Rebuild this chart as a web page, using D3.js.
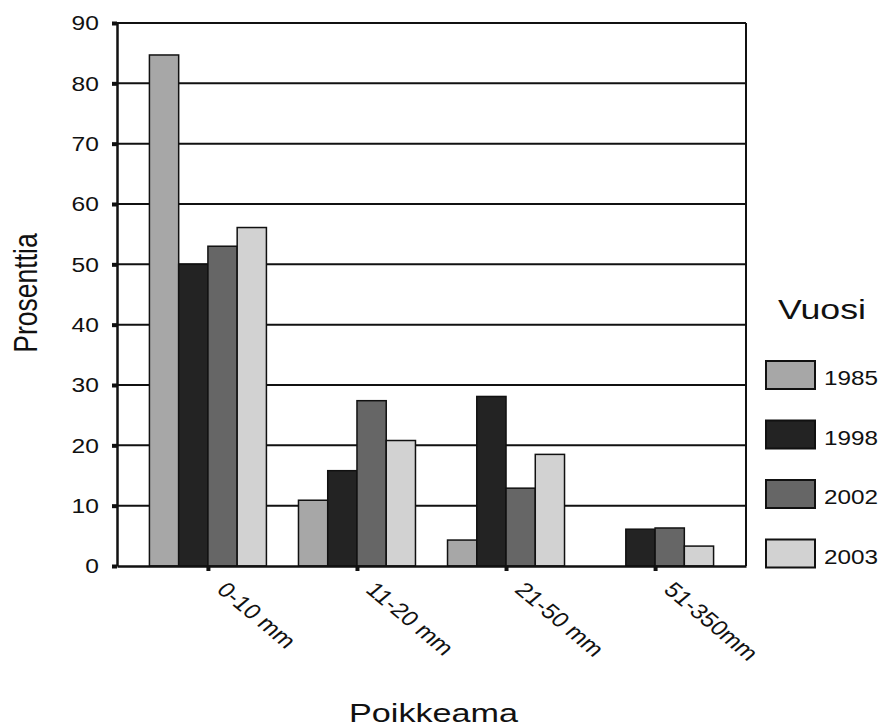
<!DOCTYPE html>
<html>
<head>
<meta charset="utf-8">
<script src="https://cdn.jsdelivr.net/npm/d3@7"></script>
<style>
  body { margin: 0; background: #fff; }
  text { font-family: "Liberation Sans", Arial, sans-serif; fill: #111; }
</style>
</head>
<body>
<svg id="chart" width="885" height="726"></svg>
<script>
// data
const categories = ['0-10 mm', '11-20 mm', '21-50 mm', '51-350mm'];
const years = ['1985', '1998', '2002', '2003'];
const values1985 = [84.7, 10.9, 4.3, null];
const values1998 = [50.0, 15.8, 28.1, 6.1];
const values2002 = [53.0, 27.4, 12.9, 6.3];
const values2003 = [56.1, 20.8, 18.5, 3.3];
const yTicks = [0, 10, 20, 30, 40, 50, 60, 70, 80, 90];
const colors = ['#a7a7a7', '#232323', '#666666', '#d2d2d2'];

const series = [values1985, values1998, values2002, values2003];

const svg = d3.select('#chart');
const plotLeft = 117, plotRight = 746, plotTop = 23, plotBottom = 566;

const x = d3.scalePoint().domain(categories).range([plotLeft, plotRight]).padding(0.61);
const xInner = d3.scaleBand().domain(years).range([-58.5, 58.5]);
const y = d3.scaleLinear().domain([0, 90]).range([plotBottom, plotTop]);
const color = d3.scaleOrdinal().domain(years).range(colors);

// gridlines
svg.append('g')
  .selectAll('line')
  .data(yTicks.filter(d => d > 0))
  .enter().append('line')
  .attr('x1', plotLeft).attr('x2', plotRight)
  .attr('y1', d => y(d)).attr('y2', d => y(d))
  .attr('stroke', '#111').attr('stroke-width', 2);

// right border
svg.append('line')
  .attr('x1', plotRight).attr('x2', plotRight)
  .attr('y1', y(90)).attr('y2', y(0))
  .attr('stroke', '#111').attr('stroke-width', 2);

// bars
years.forEach((yr, i) => {
  svg.append('g')
    .selectAll('rect')
    .data(categories.map((c, j) => ({ cat: c, v: series[i][j] })).filter(d => d.v != null))
    .enter().append('rect')
    .attr('x', d => x(d.cat) + xInner(yr))
    .attr('y', d => y(d.v))
    .attr('width', xInner.bandwidth())
    .attr('height', d => y(0) - y(d.v))
    .attr('fill', color(yr))
    .attr('stroke', '#111')
    .attr('stroke-width', 1.5);
});

// y axis
const yAxis = svg.append('g')
  .attr('transform', 'translate(' + plotLeft + ',0)')
  .call(d3.axisLeft(y).tickValues(yTicks).tickSize(5).tickSizeOuter(0).tickPadding(10.5));
yAxis.select('.domain').attr('stroke', '#111').attr('stroke-width', 2.5);
yAxis.selectAll('.tick line').attr('stroke', '#111').attr('stroke-width', 4);
yAxis.selectAll('.tick text')
  .style('font-size', '21px')
  .attr('fill', '#111')
  .attr('transform', 'scale(1.17,1)');

// x axis
const xAxis = svg.append('g')
  .attr('transform', 'translate(0,' + plotBottom + ')')
  .call(d3.axisBottom(x).tickSize(5).tickSizeOuter(0));
xAxis.select('.domain').attr('stroke', '#111').attr('stroke-width', 2.5);
xAxis.selectAll('.tick line').attr('stroke', '#111').attr('stroke-width', 4);
xAxis.selectAll('.tick text')
  .style('font-size', '21px')
  .attr('fill', '#111')
  .attr('text-anchor', 'start')
  .attr('x', 0).attr('y', 0).attr('dy', 0)
  .attr('transform', 'translate(7,25) scale(1.2,1) rotate(45)');

// axis titles
svg.append('text')
  .attr('transform', 'translate(37,293) scale(1.25,1) rotate(-90)')
  .attr('text-anchor', 'middle')
  .style('font-size', '26.5px')
  .text('Prosenttia');

svg.append('text')
  .attr('x', 349).attr('y', 722)
  .attr('textLength', 169).attr('lengthAdjust', 'spacingAndGlyphs')
  .style('font-size', '25px')
  .text('Poikkeama');

// legend
svg.append('text')
  .attr('x', 778).attr('y', 319)
  .attr('textLength', 88).attr('lengthAdjust', 'spacingAndGlyphs')
  .style('font-size', '27px')
  .text('Vuosi');

const legend = svg.append('g')
  .selectAll('g')
  .data(years)
  .enter().append('g')
  .attr('transform', (d, i) => 'translate(766,' + (361 + i * 59.5) + ')');
legend.append('rect')
  .attr('width', 49).attr('height', 28)
  .attr('fill', d => color(d))
  .attr('stroke', '#111').attr('stroke-width', 2);
legend.append('text')
  .attr('x', 58).attr('y', 24)
  .attr('textLength', 54).attr('lengthAdjust', 'spacingAndGlyphs')
  .style('font-size', '20px')
  .text(d => d);
</script>
</body>
</html>
